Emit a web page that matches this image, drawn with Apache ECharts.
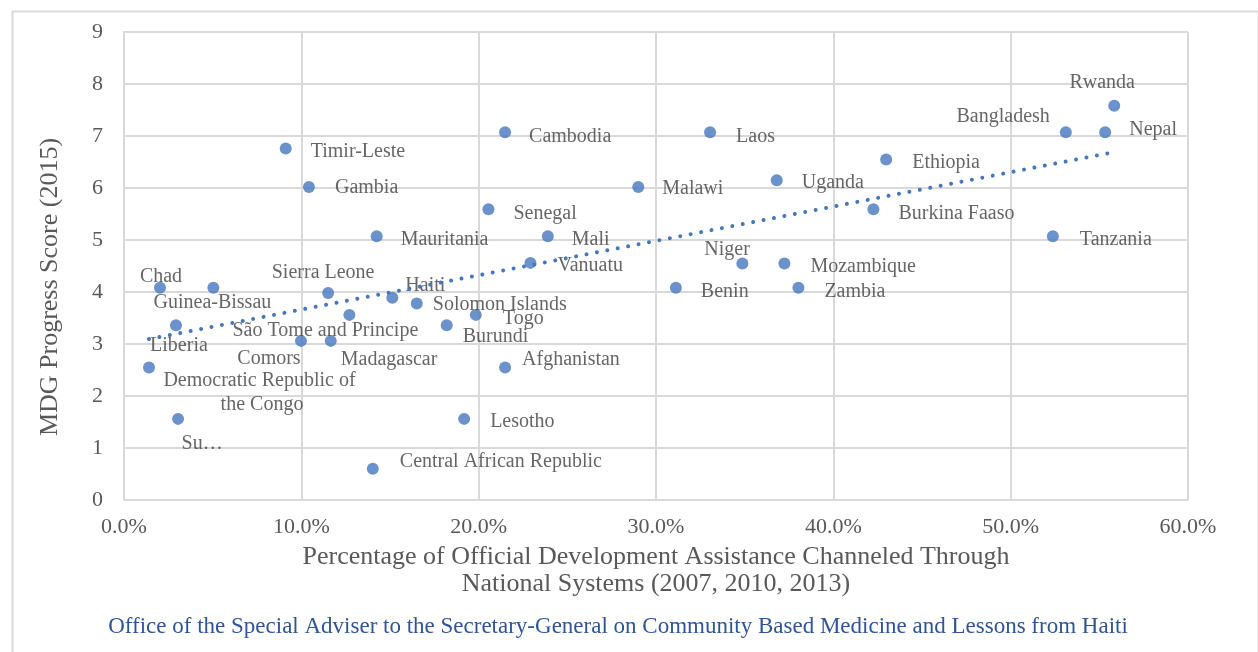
<!DOCTYPE html>
<html>
<head>
<meta charset="utf-8">
<script src="https://cdn.jsdelivr.net/npm/echarts@6/dist/echarts.min.js"></script>
<style>
  html, body { margin: 0; padding: 0; background: #ffffff; }
  #chart { width: 1258px; height: 652px; }
</style>
</head>
<body>
<div id="chart"></div>
<script>
// ---- Data ----
const countries = [
  'Timir-Leste', 'Gambia', 'Cambodia', 'Laos', 'Malawi', 'Senegal', 'Mauritania', 'Mali', 'Vanuatu',
  'Uganda', 'Ethiopia', 'Burkina Faaso', 'Bangladesh', 'Rwanda', 'Nepal', 'Tanzania', 'Niger',
  'Mozambique', 'Benin', 'Zambia', 'Chad', 'Guinea-Bissau', 'Liberia',
  'Democratic Republic of the Congo', 'Su…', 'Sierra Leone', 'Haiti', 'São Tome and Principe',
  'Solomon Islands', 'Burundi', 'Togo', 'Comors', 'Madagascar', 'Central African Republic',
  'Lesotho', 'Afghanistan'
];
// % of ODA channeled through national systems (2007, 2010, 2013)
const odaPct = [
  9.12, 10.43, 21.49, 33.05, 29.00, 20.55, 14.25, 23.90, 22.92,
  36.81, 42.98, 42.26, 53.11, 55.84, 55.33, 52.38, 34.87,
  37.24, 31.12, 38.03, 2.03, 5.04, 2.93,
  1.41, 3.05, 11.51, 15.13, 12.71,
  16.51, 18.20, 19.84, 9.98, 11.66, 14.03,
  19.18, 21.49
];
// MDG progress score (2015)
const mdgScore = [
  6.76, 6.02, 7.07, 7.07, 6.02, 5.59, 5.07, 5.07, 4.56,
  6.15, 6.55, 5.59, 7.07, 7.58, 7.07, 5.07, 4.55,
  4.55, 4.08, 4.08, 4.08, 4.08, 3.36,
  2.55, 1.56, 3.98, 3.89, 3.56,
  3.78, 3.36, 3.56, 3.06, 3.06, 0.60,
  1.56, 2.55
];
const yTicks = [0, 1, 2, 3, 4, 5, 6, 7, 8, 9];
const xTicks = [0, 10, 20, 30, 40, 50, 60];

const xTitle = 'Percentage of Official Development Assistance Channeled Through\nNational Systems (2007, 2010, 2013)';
const yTitle = 'MDG Progress Score (2015)';
const sourceText = 'Office of the Special Adviser to the Secretary-General on Community Based Medicine and Lessons from Haiti';

// ---- Styling: where each data label sits relative to its dot ----
const labelPlacement = {
  'Timir-Leste': ['left', 25, 3], 'Gambia': ['left', 26, 1], 'Cambodia': ['left', 24, 4],
  'Laos': ['left', 26, 4], 'Malawi': ['left', 24, 2], 'Senegal': ['left', 25, 4],
  'Mauritania': ['left', 24, 3], 'Mali': ['left', 24, 3], 'Vanuatu': ['left', 27, 3],
  'Uganda': ['left', 25, 3], 'Ethiopia': ['left', 26, 3], 'Burkina Faaso': ['left', 25, 4],
  'Bangladesh': ['right', -16, -16], 'Rwanda': ['center', -12, -23], 'Nepal': ['left', 24, -3],
  'Tanzania': ['left', 27, 3], 'Niger': ['left', -38, -14], 'Mozambique': ['left', 26, 3],
  'Benin': ['left', 25, 4], 'Zambia': ['left', 26, 4], 'Chad': ['center', 1, -11],
  'Guinea-Bissau': ['center', -1, 15], 'Liberia': ['center', 3, 20],
  'Democratic Republic of the Congo': ['center', 113, 25],
  'Su…': ['center', 24, 25], 'Sierra Leone': ['center', -5, -20], 'Haiti': ['center', 33, -12],
  'São Tome and Principe': ['center', -24, 16], 'Solomon Islands': ['left', 16, 1],
  'Burundi': ['left', 16, 11], 'Togo': ['left', 27, 4], 'Comors': ['center', -32, 18],
  'Madagascar': ['left', 10, 19], 'Central African Republic': ['left', 27, -7],
  'Lesotho': ['left', 26, 3], 'Afghanistan': ['left', 17, -8]
};

const FONT = '"Liberation Serif", "DejaVu Serif", serif';
const BLUE = '#4677bd';
const GRID = '#d9d9d9';

const points = countries.map((name, i) => {
  const p = labelPlacement[name] || ['left', 24, 3];
  const label = { align: p[0], offset: [p[1], p[2]] };
  if (name === 'Democratic Republic of the Congo') {
    label.width = 205; label.overflow = 'break'; label.lineHeight = 24;
  }
  return { name: name, value: [odaPct[i], mdgScore[i]], label: label };
});

// Linear trendline (least squares over the data, drawn across the data range)
const n = odaPct.length;
const mx = odaPct.reduce((a, b) => a + b, 0) / n;
const my = mdgScore.reduce((a, b) => a + b, 0) / n;
let sxy = 0, sxx = 0;
for (let i = 0; i < n; i++) { sxy += (odaPct[i] - mx) * (mdgScore[i] - my); sxx += (odaPct[i] - mx) ** 2; }
const slope = sxy / sxx, intercept = my - slope * mx;
const xMin = Math.min(...odaPct), xMax = Math.max(...odaPct);
const trend = [[xMin, intercept + slope * xMin], [xMax, intercept + slope * xMax]];

const chart = echarts.init(document.getElementById('chart'), null, { renderer: 'canvas' });
chart.setOption({
  animation: false,
  backgroundColor: '#ffffff',
  textStyle: { fontFamily: FONT },
  grid: { left: 124, right: 70, top: 32, bottom: 152, containLabel: false },
  xAxis: {
    type: 'value', min: xTicks[0], max: xTicks[xTicks.length - 1], interval: 10,
    name: xTitle, nameLocation: 'middle', nameGap: 44,
    nameTextStyle: { fontFamily: FONT, fontSize: 26, color: '#595959', lineHeight: 27 },
    axisLine: { show: true, lineStyle: { color: GRID, width: 2 } },
    axisTick: { show: false },
    axisLabel: { fontFamily: FONT, fontSize: 22, color: '#595959', margin: 16,
      formatter: v => v.toFixed(1) + '%' },
    splitLine: { show: true, lineStyle: { color: GRID, width: 2 } }
  },
  yAxis: {
    type: 'value', min: yTicks[0], max: yTicks[yTicks.length - 1], interval: 1,
    axisLine: { show: true, lineStyle: { color: GRID, width: 2 } },
    axisTick: { show: false },
    axisLabel: { fontFamily: FONT, fontSize: 22, color: '#595959', margin: 21 },
    splitLine: { show: true, lineStyle: { color: GRID, width: 2 } }
  },
  graphic: [
    { type: 'rect', left: 10, top: 9, silent: true,
      shape: { width: 1246, height: 700 },
      style: { fill: 'none', stroke: GRID, lineWidth: 2 } },
    { type: 'text', silent: true, x: 50, y: 287, rotation: Math.PI / 2,
      style: { text: yTitle, fontFamily: FONT, fontSize: 26, fill: '#595959',
        align: 'center', verticalAlign: 'middle' } },
    { type: 'text', silent: true, x: 618, y: 627,
      style: { text: sourceText, fontFamily: FONT, fontSize: 23, fill: '#2f5597',
        align: 'center', verticalAlign: 'middle' } }
  ],
  series: [
    {
      type: 'scatter', symbol: 'circle', symbolSize: 12,
      itemStyle: { color: BLUE },
      data: points,
      label: { show: true, position: 'inside', formatter: '{b}', verticalAlign: 'middle',
        fontFamily: FONT, fontSize: 20, color: '#404040' },
      z: 2
    },
    {
      type: 'line', data: trend, showSymbol: false, silent: true,
      lineStyle: { color: BLUE, width: 4, type: [0.01, 10.6], cap: 'round' },
      z: 3
    }
  ]
});
</script>
</body>
</html>
